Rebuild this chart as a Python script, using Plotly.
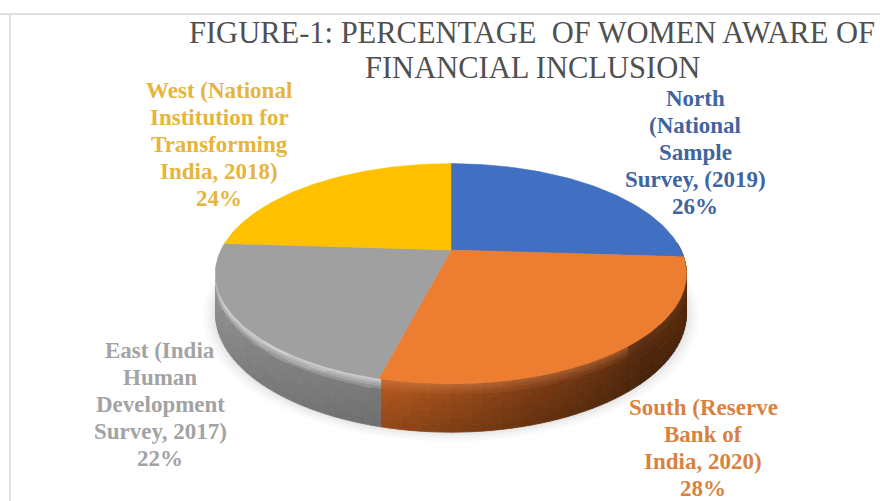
import math
import plotly.graph_objects as go

# Survey regions, clockwise from twelve o'clock
regions = ["North", "South", "East", "West"]
shares = [26, 28, 22, 24]
slice_colors = ["#4170C2", "#ED7D31", "#A0A0A0", "#FFC000"]
label_colors = ["#3F659F", "#D9823F", "#A3A3A3", "#E6B53A"]
label_lines = [
    ["North", "(National", "Sample", "Survey, (2019)"],
    ["South (Reserve", "Bank of", "India, 2020)"],
    ["East (India", "Human", "Development", "Survey, 2017)"],
    ["West (National", "Institution for", "Transforming", "India, 2018)"],
]
label_anchor = [(695, 98), (703, 407), (160, 350), (219, 90)]
title_lines = ["FIGURE-1: PERCENTAGE  OF WOMEN AWARE OF", "FINANCIAL INCLUSION"]

# Perspective disc: screen centre, radii and foreshortening
CX, CY, RX, RY, PERSP, DEPTH = 451, 250, 230, 105, 0.215, 38


def project(theta, radius=1.0, drop=0.0):
    """Map a clockwise angle (degrees from the top) on the disc to the page."""
    a = math.radians(theta)
    px, py = radius * math.sin(a), radius * math.cos(a)
    s = 1 / (1 + PERSP * py)
    return CX + RX * px * s, CY - RY * py * s + drop * s


def mix(c1, c2, f):
    return tuple(c1[i] + (c2[i] - c1[i]) * f for i in range(3))


def ramp(stops, t):
    for (t0, c0), (t1, c1) in zip(stops, stops[1:]):
        if t <= t1:
            return mix(c0, c1, (t - t0) / (t1 - t0) if t1 > t0 else 0)
    return stops[-1][1]


# Boundaries of the slices in degrees
edges = [0]
for value in shares:
    edges.append(edges[-1] + value * 3.6)

GREY_WALL = [(194, (120, 120, 120)), (225, (132, 132, 132)), (270, (158, 158, 158))]
ORANGE_WALL = [(88, (130, 62, 18)), (105, (92, 44, 12)), (135, (84, 42, 14)),
               (165, (124, 60, 20)), (194, (176, 86, 30))]


def wall_color(theta, v):
    in_east = theta >= edges[2]
    stops = GREY_WALL if in_east else ORANGE_WALL
    c = ramp(stops, min(max(theta, stops[0][0]), stops[-1][0]))
    # lit bevel just under the rim, fading down the wall
    if v < 0.26:
        glow = (1 - v / 0.26) * (0.8 if in_east else 0.45)
        glow *= 1.0 if theta > 140 else 0.2
        c = mix(c, (235, 235, 235) if in_east else (235, 140, 80), glow)
    else:
        c = mix(c, (0, 0, 0), (v - 0.26) * (0.1 if in_east else 0.22))
    return c


fig = go.Figure()

# Soft contact shadow under the disc
for grow, alpha in ((1.05, 0.03), (1.035, 0.04), (1.02, 0.05), (1.008, 0.06)):
    pts = [project(t, grow, DEPTH) for t in range(0, 361, 3)]
    fig.add_trace(go.Scatter(x=[p[0] for p in pts], y=[p[1] for p in pts], mode="none",
                             fill="toself", fillcolor=f"rgba(90,90,90,{alpha})", hoverinfo="skip"))

# Curved wall, gathered into one trace per quantised shade
bands = [0, 0.05, 0.1, 0.16, 0.22, 0.3, 0.4, 0.55, 0.7, 0.85, 1]
quads = {}
step = 2
for theta in range(86, 272, step):
    for v0, v1 in zip(bands, bands[1:]):
        c = wall_color(theta + step / 2, (v0 + v1) / 2)
        key = tuple(int(round(ch / 3) * 3) for ch in c)
        corners = [project(theta, 1, DEPTH * v0), project(theta + step, 1, DEPTH * v0),
                   project(theta + step, 1, DEPTH * v1), project(theta, 1, DEPTH * v1)]
        quads.setdefault(key, []).append(corners)
for key, items in quads.items():
    xs, ys = [], []
    for corners in items:
        xs += [p[0] for p in corners] + [corners[0][0], None]
        ys += [p[1] for p in corners] + [corners[0][1], None]
    col = f"rgb{key}"
    fig.add_trace(go.Scatter(x=xs, y=ys, mode="lines", line=dict(color=col, width=0.8),
                             fill="toself", fillcolor=col, hoverinfo="skip"))

# Top face of the pie
for i, region in enumerate(regions):
    n = max(2, int(edges[i + 1] - edges[i]))
    arc = [project(edges[i] + (edges[i + 1] - edges[i]) * j / n) for j in range(n + 1)]
    xs = [CX] + [p[0] for p in arc] + [CX]
    ys = [CY] + [p[1] for p in arc] + [CY]
    fig.add_trace(go.Scatter(x=xs, y=ys, mode="lines", line=dict(color=slice_colors[i], width=0.5),
                             fill="toself", fillcolor=slice_colors[i], name=region,
                             hovertemplate=f"{region}: {shares[i]}%<extra></extra>"))

# Data labels, one annotation per line
LABEL_STEP = 27
annotations = []
for lines, (ax, ay), color, value in zip(label_lines, label_anchor, label_colors, shares):
    for j, text in enumerate(lines + [f"{value}%"]):
        annotations.append(dict(x=ax, y=ay + j * LABEL_STEP, text=text, showarrow=False,
                                xanchor="center", yanchor="middle",
                                font=dict(family="Liberation Serif", size=23, color=color, weight="bold")))

for text, ty in zip(title_lines, (33, 68)):
    annotations.append(dict(x=532, y=ty, text=text, showarrow=False, xanchor="center", yanchor="middle",
                            font=dict(family="Liberation Serif", size=30.5, color="#505050")))

# Thin frame along the top and left
frame = [dict(type="line", x0=0, x1=880, y0=14, y1=14, line=dict(color="#E0E0E0", width=2), layer="below"),
         dict(type="line", x0=10, x1=10, y0=14, y1=501, line=dict(color="#E0E0E0", width=2), layer="below")]

fig.update_layout(
    width=880, height=501, margin=dict(l=0, r=0, t=0, b=0), autosize=False,
    paper_bgcolor="white", plot_bgcolor="white", showlegend=False,
    xaxis=dict(range=[0, 880], visible=False, fixedrange=True),
    yaxis=dict(range=[501, 0], visible=False, fixedrange=True),
    annotations=annotations,
    shapes=frame,
)
fig.write_html("out.html", config=dict(displayModeBar=False))
